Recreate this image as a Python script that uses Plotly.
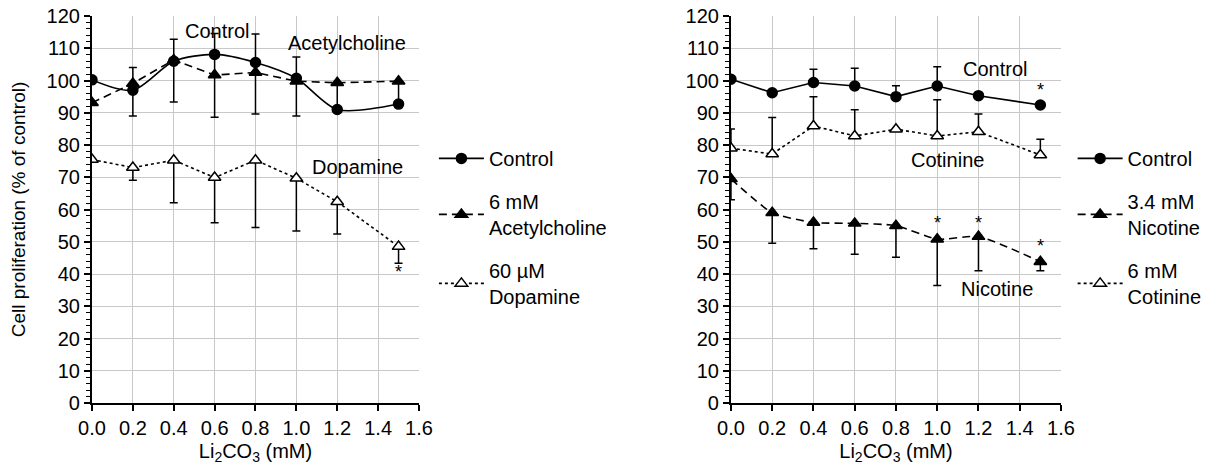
import plotly.graph_objects as go

# ---------------- data ----------------
li_conc = [0.0, 0.2, 0.4, 0.6, 0.8, 1.0, 1.2, 1.5]

# Left panel
ctrl_L = [100.2, 97.0, 106.0, 108.1, 105.6, 100.7, 91.0, 92.7]
ctrl_L_plus = [0, 7.0, 6.8, 6.5, 8.8, 6.6, 0, 0]
ctrl_L_minus = [0, 8.0, 12.7, 19.5, 16.0, 11.7, 0, 0]

ach = [93.1, 99.1, 106.4, 101.7, 102.5, 99.8, 99.3, 99.8]
ach_minus = [0, 0, 0, 0, 0, 0, 8.3, 7.0]

dopa = [75.5, 73.0, 75.3, 69.9, 75.3, 69.7, 62.4, 48.5]
dopa_minus = [0, 3.9, 13.2, 14.0, 20.9, 16.4, 10.0, 5.2]

# Right panel
ctrl_R = [100.4, 96.2, 99.4, 98.3, 95.0, 98.3, 95.3, 92.4]
ctrl_R_plus = [0, 0, 4.1, 5.5, 3.4, 6.0, 0, 0]

nico = [69.5, 59.0, 56.0, 55.7, 55.0, 50.8, 51.6, 43.8]
nico_minus = [6.5, 9.5, 8.2, 9.6, 9.8, 14.4, 10.6, 2.8]

coti = [79.0, 77.2, 85.9, 82.8, 84.9, 82.8, 84.1, 76.9]
coti_plus = [6.0, 11.3, 9.1, 8.1, 0, 11.2, 5.5, 4.9]

x_ticks = [0.0, 0.2, 0.4, 0.6, 0.8, 1.0, 1.2, 1.4, 1.6]

FONT = "Liberation Sans, Arial, Helvetica, sans-serif"

fig = go.Figure()


def err(plus=None, minus=None):
    n = len(li_conc)
    return dict(type="data", symmetric=False,
                array=plus if plus is not None else [0] * n,
                arrayminus=minus if minus is not None else [0] * n,
                color="black", thickness=1.5, width=4)


def add(y, name, xa, ya, legend, group, symbol, dash, shape, plus=None, minus=None,
        smooth=None, filled=True):
    line = dict(color="black", width=1.6, dash=dash, shape=shape)
    if smooth is not None:
        line["smoothing"] = smooth
    fig.add_trace(go.Scatter(
        x=li_conc, y=y, name=name, mode="lines+markers",
        xaxis=xa, yaxis=ya, legend=legend, legendgroup=group,
        line=line,
        marker=dict(symbol=symbol, size=11 if "triangle" in symbol else 10,
                    color="black" if filled else "white",
                    line=dict(color="black", width=1.5)),
        error_y=err(plus, minus),
    ))


# Left panel traces
add(ctrl_L, "Control", "x", "y", "legend", "a", "circle", "solid", "spline",
    ctrl_L_plus, ctrl_L_minus, smooth=0.8)
add(ach, "6 mM<br>Acetylcholine", "x", "y", "legend", "b", "triangle-up", "8px,5px", "linear",
    None, ach_minus)
add(dopa, "60 µM<br>Dopamine", "x", "y", "legend", "c", "triangle-up", "3px,3px", "linear",
    None, dopa_minus, filled=False)

# Right panel traces
add(ctrl_R, "Control", "x2", "y2", "legend2", "d", "circle", "solid", "linear",
    ctrl_R_plus, None)
add(nico, "3.4 mM<br>Nicotine", "x2", "y2", "legend2", "e", "triangle-up", "8px,5px", "spline",
    None, nico_minus, smooth=0.6)
add(coti, "6 mM<br>Cotinine", "x2", "y2", "legend2", "f", "triangle-up", "3px,3px", "linear",
    coti_plus, None, filled=False)

xaxis_common = dict(
    range=[0, 1.6], tickvals=x_ticks, ticktext=[f"{v:.1f}" for v in x_ticks],
    showline=True, linecolor="black", linewidth=2,
    ticks="outside", ticklen=6, tickwidth=1.5, tickcolor="black",
    showgrid=True, gridcolor="#c8c8c8", gridwidth=1.3,
    zeroline=False, automargin=False,
    tickfont=dict(family=FONT, size=20, color="black"),
    title=dict(text="Li<sub>2</sub>CO<sub>3</sub> (mM)",
               font=dict(family=FONT, size=20, color="black"), standoff=6),
)
yaxis_common = dict(
    range=[0, 120], dtick=10,
    showline=True, linecolor="black", linewidth=2,
    ticks="outside", ticklen=6, tickwidth=1.5, tickcolor="black",
    minor=dict(dtick=2, ticks="outside", ticklen=4, tickwidth=1, tickcolor="black", showgrid=False),
    showgrid=True, gridcolor="#c8c8c8", gridwidth=1.3,
    zeroline=False, automargin=False,
    tickfont=dict(family=FONT, size=20, color="black"),
)

ydom = [0.1498, 0.9662]
leg_common = dict(xanchor="left", yanchor="top", bgcolor="rgba(0,0,0,0)",
                  tracegroupgap=14, itemwidth=45, traceorder="grouped",
                  font=dict(family=FONT, size=20, color="black"))
fig.update_layout(
    width=1212, height=474,
    margin=dict(l=0, r=0, t=0, b=0),
    paper_bgcolor="white", plot_bgcolor="white",
    font=dict(family=FONT, size=20, color="black"),
    xaxis=dict(domain=[0.0759, 0.3457], anchor="y", **xaxis_common),
    yaxis=dict(domain=ydom, anchor="x",
               title=dict(text="Cell proliferation (% of control)",
                          font=dict(family=FONT, size=19, color="black"), standoff=16),
               **yaxis_common),
    xaxis2=dict(domain=[0.6031, 0.8754], anchor="y2", **xaxis_common),
    yaxis2=dict(domain=ydom, anchor="x2", **yaxis_common),
    legend=dict(x=0.358, y=0.707, **leg_common),
    legend2=dict(x=0.885, y=0.707, **leg_common),
    showlegend=True,
)

ann_font = dict(family=FONT, size=20, color="black")
labels = [
    ("x", "y", 0.61, 115.5, "Control"),
    ("x", "y", 1.25, 111.5, "Acetylcholine"),
    ("x", "y", 1.30, 73.3, "Dopamine"),
    ("x2", "y2", 1.28, 103.5, "Control"),
    ("x2", "y2", 1.05, 75.3, "Cotinine"),
    ("x2", "y2", 1.29, 35.3, "Nicotine"),
]
for xr, yr, xv, yv, t in labels:
    fig.add_annotation(xref=xr, yref=yr, x=xv, y=yv, text=t, showarrow=False, font=ann_font)

stars = [
    ("x", "y", 1.5, 40.5),
    ("x2", "y2", 1.5, 97.0),
    ("x2", "y2", 1.0, 55.9),
    ("x2", "y2", 1.2, 55.9),
    ("x2", "y2", 1.5, 48.8),
]
for xr, yr, xv, yv in stars:
    fig.add_annotation(xref=xr, yref=yr, x=xv, y=yv, text="*", showarrow=False,
                       font=dict(family=FONT, size=18, color="black"))

fig.write_html(
    "out.html",
    config={"displayModeBar": False},
    post_script="document.body.style.margin='0';document.body.style.overflow='hidden';",
)
